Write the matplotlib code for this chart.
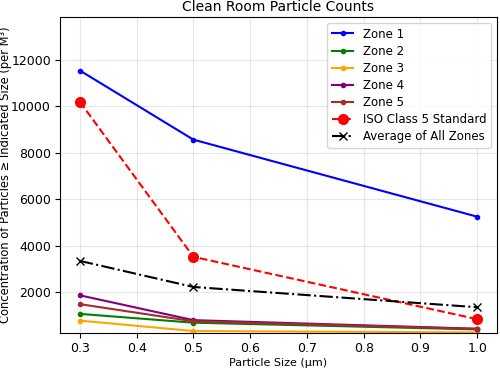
import numpy as np
import matplotlib
matplotlib.use('Agg')
import matplotlib.pyplot as plt

# particle sizes (um)
sizes = [0.3, 0.5, 1.0]

# concentrations per m^3 for each zone
zone1 = [11550, 8570, 5250]
zone2 = [1060, 680, 390]
zone3 = [770, 320, 260]
zone4 = [1860, 790, 420]
zone5 = [1480, 740, 410]

# ISO 14644-1 class 5 limits
iso5 = [10200, 3520, 832]

zones = [zone1, zone2, zone3, zone4, zone5]
zone_names = ['Zone 1', 'Zone 2', 'Zone 3', 'Zone 4', 'Zone 5']
zone_colors = ['blue', 'green', 'orange', 'purple', 'brown']

avg = np.mean(np.array(zones), axis=0)

fig = plt.figure(figsize=(5, 3.68), dpi=100)
ax = fig.add_subplot(111)

for vals, name, col in zip(zones, zone_names, zone_colors):
    ax.plot(sizes, vals, '-o', color=col, markersize=3, linewidth=1.5, label=name)

ax.plot(sizes, iso5, '--o', color='red', markersize=7, linewidth=1.5,
        label='ISO Class 5 Standard')
ax.plot(sizes, avg, '-.x', color='black', markersize=6, linewidth=1.5,
        label='Average of All Zones')

all_vals = np.concatenate([np.ravel(zones), iso5])
ax.set_ylim(all_vals.min() * 0.9, all_vals.max() * 1.2)

ax.set_title('Clean Room Particle Counts', fontsize=10, pad=4)
ax.set_xlabel('Particle Size (µm)', fontsize=8, labelpad=2)
ax.set_ylabel('Concentration of Particles ≥ Indicated Size (per M³)', fontsize=8.3)
ax.yaxis.set_label_coords(-0.11, 0.5)
ax.tick_params(labelsize=9, pad=3)
ax.grid(True, alpha=0.3)
ax.legend(loc='upper right', fontsize=8.5, handlelength=1.8, labelspacing=0.35)

fig.subplots_adjust(left=0.12, right=0.994, top=0.954, bottom=0.095)
fig.savefig('out.png', dpi=100)
